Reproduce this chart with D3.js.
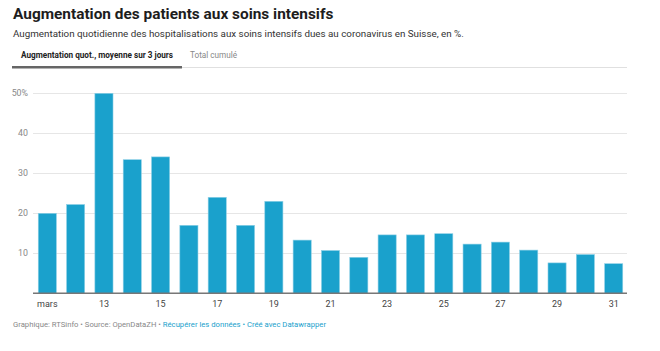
<!DOCTYPE html>
<html lang="fr">
<head>
<meta charset="UTF-8">
<title>Augmentation des patients aux soins intensifs</title>
<style>
    html, body { margin: 0; padding: 0; background: #fff; }
    svg { display: block; font-family: Roboto, "Noto Sans", sans-serif; }
</style>
</head>
<body>
<div id="chart"></div>
<script src="https://cdn.jsdelivr.net/npm/d3@7"></script>
<script>
    // jours de mars
    const days = [11, 12, 13, 14, 15, 16, 17, 18, 19, 20, 21, 22, 23, 24, 25, 26, 27, 28, 29, 30, 31];
    // augmentation quotidienne, moyenne sur 3 jours (%)
    const values = [20.0, 22.2, 50.0, 33.4, 34.1, 17.0, 24.0, 17.0, 23.0, 13.3, 10.7, 9.0, 14.6, 14.6, 14.9, 12.3, 12.8, 10.8, 7.6, 9.7, 7.4];
    const yTicks = [0, 10, 20, 30, 40, 50];
    const xTicks = [11, 13, 15, 17, 19, 21, 23, 25, 27, 29, 31];

    const width = 660, height = 351;
    const svg = d3.select("#chart").append("svg")
        .attr("width", width)
        .attr("height", height);

    // titre
    svg.append("text")
        .attr("x", 13).attr("y", 18.5)
        .attr("font-size", 15.4).attr("font-weight", 700)
        .attr("fill", "#1d1d1d")
        .text("Augmentation des patients aux soins intensifs");

    svg.append("text")
        .attr("x", 13).attr("y", 36.5)
        .attr("font-size", 9.8)
        .attr("fill", "#333")
        .text("Augmentation quotidienne des hospitalisations aux soins intensifs dues au coronavirus en Suisse, en %.");

    // onglets
    svg.append("text")
        .attr("x", 21).attr("y", 58)
        .attr("font-size", 8.2).attr("font-weight", 700)
        .attr("fill", "#222")
        .text("Augmentation quot., moyenne sur 3 jours");
    svg.append("text")
        .attr("x", 190).attr("y", 58)
        .attr("font-size", 8.2)
        .attr("fill", "#888")
        .text("Total cumulé");
    svg.append("line")
        .attr("x1", 12).attr("x2", 627).attr("y1", 67.5).attr("y2", 67.5)
        .attr("stroke", "#e0e0e0").attr("stroke-width", 1);
    svg.append("line")
        .attr("x1", 12).attr("x2", 182).attr("y1", 67.2).attr("y2", 67.2)
        .attr("stroke", "#666").attr("stroke-width", 2.4);

    // échelles
    const x = d3.scaleBand()
        .domain(days)
        .range([34, 627])
        .paddingInner(0.36)
        .paddingOuter(0.15);

    const y = d3.scaleLinear()
        .domain([0, 50])
        .range([293.3, 93.3]);

    // grille
    const grid = svg.append("g").attr("class", "grid");
    grid.selectAll("line").data(yTicks.filter(d => d > 0)).join("line")
        .attr("x1", 33).attr("x2", 627)
        .attr("y1", d => Math.round(y(d)) + 0.5)
        .attr("y2", d => Math.round(y(d)) + 0.5)
        .attr("stroke", "#e6e6e6");

    grid.selectAll("text").data(yTicks.filter(d => d > 0)).join("text")
        .attr("x", 28)
        .attr("y", d => y(d))
        .attr("dy", "0.35em")
        .attr("text-anchor", "end")
        .attr("font-size", 8.8)
        .attr("fill", "#888")
        .text(d => d === 50 ? d + "%" : d);

    // barres
    svg.append("g").selectAll("rect").data(values).join("rect")
        .attr("x", (d, i) => x(days[i]))
        .attr("y", d => y(d))
        .attr("width", x.bandwidth())
        .attr("height", d => y(0) - y(d))
        .attr("fill", "#1aa1cc")
        .attr("stroke", "#8fd0e6")
        .attr("stroke-width", 0.6);

    // axe x
    svg.append("line")
        .attr("x1", 33).attr("x2", 627)
        .attr("y1", y(0)).attr("y2", y(0))
        .attr("stroke", "#777").attr("stroke-width", 1.6);

    svg.append("g").selectAll("text").data(xTicks).join("text")
        .attr("x", d => x(d) + x.bandwidth() / 2)
        .attr("y", 306.5)
        .attr("text-anchor", "middle")
        .attr("font-size", 9)
        .attr("fill", "#444")
        .text(d => d === 11 ? "mars" : d);

    // source
    const foot = svg.append("text")
        .attr("x", 13).attr("y", 327)
        .attr("font-size", 7.7);
    foot.append("tspan").attr("fill", "#888")
        .text("Graphique: RTSinfo • Source: OpenDataZH • ");
    foot.append("tspan").attr("fill", "#1aa1cc")
        .text("Récupérer les données • Créé avec Datawrapper");
</script>
</body>
</html>
